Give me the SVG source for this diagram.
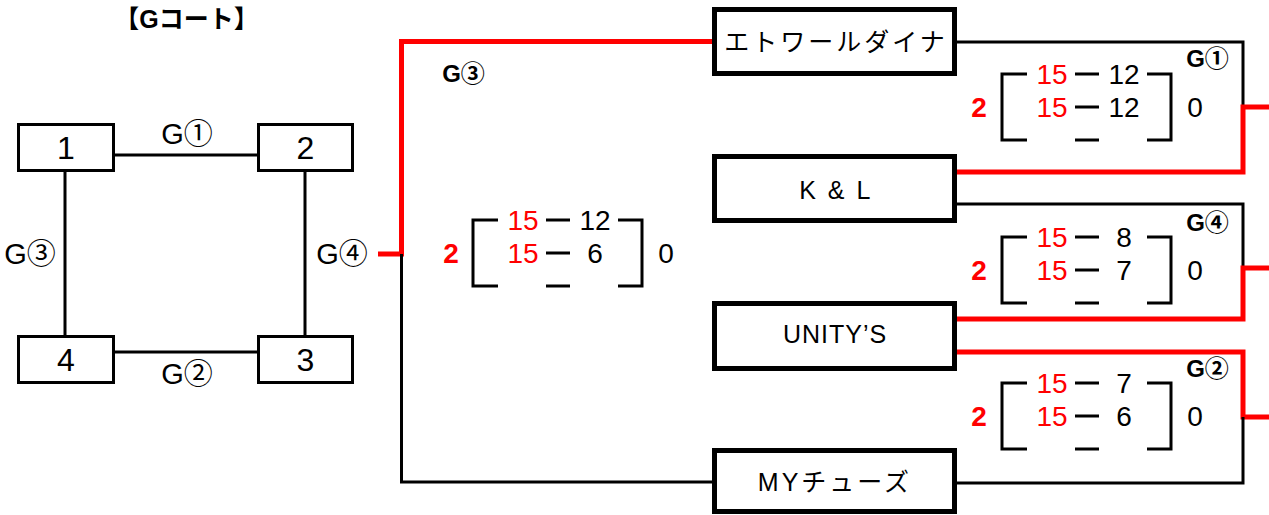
<svg xmlns="http://www.w3.org/2000/svg" xmlns:xlink="http://www.w3.org/1999/xlink" width="1269" height="515" viewBox="0 0 1269 515">
<style>
text{font-family:"Liberation Sans","Noto Sans CJK JP",sans-serif;text-anchor:middle;fill:#000}
.small{fill:#fff;stroke:#000;stroke-width:3}
.team{fill:#fff;stroke:#000;stroke-width:5}
.blk{fill:none;stroke:#000;stroke-width:3}
.red{fill:none;stroke:#ff0000;stroke-width:5}
.br{fill:none;stroke:#000;stroke-width:3}
.num{font-size:32px}
.lbl{font-size:29px}
.bl{font-size:24px;font-weight:bold}
.nm{font-size:25px}
.sc{font-size:28px}
.r{fill:#ff0000}
.win{fill:#ff0000;font-weight:bold}
</style>
<defs>
<g id="bracket">
<path class="br" d="M25,0 H0 V66 H25 M145,0 H169 V66 H145 M73,0 H97 M73,33 H97 M73,66 H97"/>
</g>
</defs>

<g id="title"><text x="186.5" y="28" style="font-size:25px;font-weight:bold">【Gコート】</text></g>

<g id="connectors">
<path class="blk" d="M115,155 H259 M115,352 H259 M65,172 V335 M305,172 V335"/>
<path class="red" d="M378,254 H401.5 V41.5 H712"/>
<path class="blk" d="M401.5,254 V482 H712"/>
<path class="blk" d="M957,42 H1243 V107"/>
<path class="red" d="M957,172 H1243 V107 H1269"/>
<path class="blk" d="M957,204 H1243 V268"/>
<path class="red" d="M957,319 H1243 V268 H1269"/>
<path class="red" d="M957,352 H1243 V417 H1269"/>
<path class="blk" d="M957,483 H1243 V417"/>
</g>

<g id="box1"><rect class="small" x="18.5" y="124.5" width="95" height="46"/><text class="num" x="66" y="159">1</text></g>
<g id="box2"><rect class="small" x="258.5" y="124.5" width="94" height="46"/><text class="num" x="305.5" y="159">2</text></g>
<g id="box4"><rect class="small" x="18.5" y="336.5" width="95" height="46"/><text class="num" x="66" y="371">4</text></g>
<g id="box3"><rect class="small" x="258.5" y="336.5" width="94" height="46"/><text class="num" x="305.5" y="371">3</text></g>

<g id="labels-small">
<text class="lbl" x="187" y="144">G①</text>
<text class="lbl" x="30" y="264">G③</text>
<text class="lbl" x="342" y="264">G④</text>
<text class="lbl" x="187" y="384">G②</text>
</g>

<g id="team-etoile"><rect class="team" x="714.5" y="9.5" width="240" height="64"/><text class="nm" x="836" y="51" letter-spacing="3">エトワールダイナ</text></g>
<g id="team-kl"><rect class="team" x="714.5" y="156.5" width="240" height="64"/><text class="nm" x="836" y="199" letter-spacing="2.5">K &amp; L</text></g>
<g id="team-unitys"><rect class="team" x="714.5" y="303.5" width="240" height="65"/><text class="nm" x="835" y="343" letter-spacing="1">UNITY’S</text></g>
<g id="team-my"><rect class="team" x="714.5" y="450.5" width="240" height="61"/><text class="nm" x="835" y="491" letter-spacing="3">MYチューズ</text></g>

<g id="score-g3">
<text class="bl" x="463.5" y="82">G③</text>
<use xlink:href="#bracket" x="473" y="220"/>
<text class="sc r" x="523" y="230">15</text><text class="sc" x="595" y="230">12</text>
<text class="sc r" x="523" y="263">15</text><text class="sc" x="595" y="263">6</text>
<text class="sc win" x="451" y="263">2</text><text class="sc" x="666" y="263">0</text>
</g>

<g id="score-g1">
<text class="bl" x="1207.5" y="67">G①</text>
<use xlink:href="#bracket" x="1002" y="74"/>
<text class="sc r" x="1052" y="84">15</text><text class="sc" x="1124" y="84">12</text>
<text class="sc r" x="1052" y="117">15</text><text class="sc" x="1124" y="117">12</text>
<text class="sc win" x="979" y="117">2</text><text class="sc" x="1195" y="117">0</text>
</g>

<g id="score-g4">
<text class="bl" x="1207.5" y="231">G④</text>
<use xlink:href="#bracket" x="1002" y="237"/>
<text class="sc r" x="1052" y="247">15</text><text class="sc" x="1124" y="247">8</text>
<text class="sc r" x="1052" y="280">15</text><text class="sc" x="1124" y="280">7</text>
<text class="sc win" x="979" y="280">2</text><text class="sc" x="1195" y="280">0</text>
</g>

<g id="score-g2">
<text class="bl" x="1207.5" y="377">G②</text>
<use xlink:href="#bracket" x="1002" y="383"/>
<text class="sc r" x="1052" y="393">15</text><text class="sc" x="1124" y="393">7</text>
<text class="sc r" x="1052" y="426">15</text><text class="sc" x="1124" y="426">6</text>
<text class="sc win" x="979" y="426">2</text><text class="sc" x="1195" y="426">0</text>
</g>
</svg>
